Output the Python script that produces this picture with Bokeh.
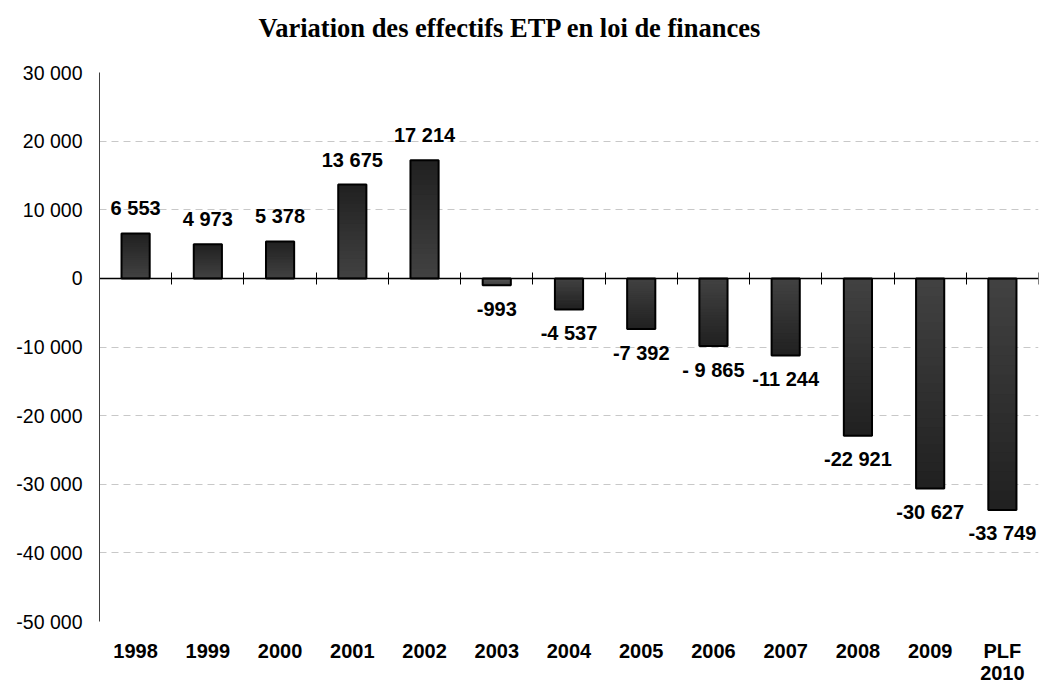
from bokeh.plotting import figure
from bokeh.models import Range1d, FixedTicker, LinearAxis, Title
from bokeh.core.properties import value
from bokeh.embed import file_html
from bokeh.resources import INLINE

# ---- data ----
categories = ["1998", "1999", "2000", "2001", "2002", "2003", "2004",
              "2005", "2006", "2007", "2008", "2009", "PLF\n2010"]
values = [6553, 4973, 5378, 13675, 17214, -993, -4537,
          -7392, -9865, -11244, -22921, -30627, -33749]
labels = ["6 553", "4 973", "5 378", "13 675", "17 214", "-993", "-4 537",
          "-7 392", "- 9 865", "-11 244", "-22 921", "-30 627", "-33 749"]
y_ticks = [-50000, -40000, -30000, -20000, -10000, 0, 10000, 20000, 30000]
title_text = "Variation des effectifs ETP en loi de finances"

n = len(categories)
xs = [i + 0.5 for i in range(n)]

p = figure(width=1039, height=687, output_backend="svg", toolbar_location=None,
           x_range=Range1d(0, n), y_range=Range1d(min(y_ticks), max(y_ticks)),
           min_border_left=99, min_border_right=1, min_border_top=72,
           min_border_bottom=66)
p.outline_line_color = None
p.background_fill_color = "white"
p.border_fill_color = "white"

# spacer between frame and title (nearest to the frame)
spacer = Title(text=" ", text_font_size="1px", standoff=25)
p.add_layout(spacer, "above")

# title (outermost)
p.title.text = title_text
p.title.text_font = "Liberation Serif"
p.title.text_font_style = "bold"
p.title.text_font_size = "26.5px"
p.title.text_color = "black"
p.title.align = "left"
p.title.offset = 159
p.title.standoff = 4

# y axis
fmt = lambda t: f"{t:,}".replace(",", " ")
yax = p.yaxis[0]
yax.ticker = FixedTicker(ticks=y_ticks)
yax.major_label_overrides = {t: fmt(t) for t in y_ticks}
yax.major_tick_line_color = None
yax.minor_tick_line_color = None
yax.major_tick_out = 0
yax.major_tick_in = 0
yax.major_label_standoff = 17
yax.axis_line_color = "#404040"
yax.axis_line_width = 1
yax.major_label_text_font = "Liberation Sans"
yax.major_label_text_font_size = "19.5px"
yax.major_label_text_color = "black"

p.ygrid.ticker = FixedTicker(ticks=y_ticks)
p.ygrid.grid_line_color = "#c8c8c8"
p.ygrid.grid_line_dash = "7 5"
p.ygrid.grid_line_width = 1
p.xgrid.visible = False

# bottom category labels axis
xax = p.xaxis[0]
xax.ticker = FixedTicker(ticks=xs)
xax.major_label_overrides = {x: c for x, c in zip(xs, categories)}
xax.axis_line_color = None
xax.major_tick_line_color = None
xax.minor_tick_line_color = None
xax.major_tick_out = 0
xax.major_tick_in = 0
xax.major_label_standoff = 18
xax.major_label_text_font = "Liberation Sans"
xax.major_label_text_font_style = "bold"
xax.major_label_text_font_size = "20px"
xax.major_label_text_line_height = 1.0
xax.major_label_text_color = "black"

# bars with a vertical shade (lighter near zero, darker at the far end)
N = 24
light = (0x42, 0x42, 0x42)
dark = (0x20, 0x20, 0x20)
for k in range(N):
    t = (k + 0.5) / N
    c = tuple(int(round(a + (b - a) * t)) for a, b in zip(light, dark))
    col = "#%02x%02x%02x" % c
    p.vbar(x=xs, bottom=[v * k / N for v in values],
           top=[v * min(k + 1.6, N) / N for v in values],
           width=0.39, fill_color=col, line_color=None)
p.vbar(x=xs, bottom=0, top=values, width=0.39, fill_color=None,
       line_color="black", line_width=2)

# zero axis with tick marks at category boundaries
zax = LinearAxis(fixed_location=0, ticker=FixedTicker(ticks=list(range(n + 1))))
zax.axis_line_color = "black"
zax.axis_line_width = 1.5
zax.major_tick_line_color = "black"
zax.major_tick_line_width = 1
zax.major_tick_in = 6
zax.major_tick_out = 6
zax.minor_tick_line_color = None
zax.major_label_text_font_size = "0px"
zax.major_label_text_color = None
zax.major_label_standoff = 0
p.add_layout(zax, "below")

# data labels
pos = [i for i, v in enumerate(values) if v >= 0]
neg = [i for i, v in enumerate(values) if v < 0]
common = dict(text_align="center", text_baseline="middle",
              text_font=value("Liberation Sans"), text_font_style="bold",
              text_font_size="20px", text_color="black")
p.text(x=[xs[i] for i in pos], y=[values[i] for i in pos],
       text=[labels[i] for i in pos], y_offset=-25, **common)
p.text(x=[xs[i] for i in neg], y=[values[i] for i in neg],
       text=[labels[i] for i in neg], y_offset=23.5, **common)

open("out.html", "w").write(file_html(p, INLINE))
